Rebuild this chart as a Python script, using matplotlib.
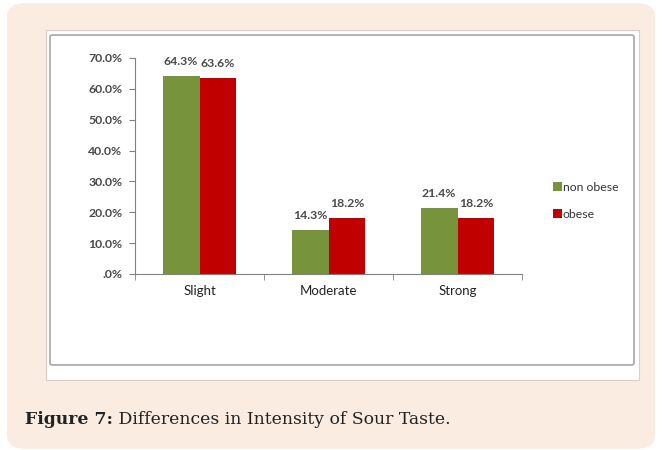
import matplotlib
matplotlib.use("Agg")
import matplotlib.pyplot as plt
from matplotlib.patches import FancyBboxPatch, Rectangle
import numpy as np

categories = ["Slight", "Moderate", "Strong"]
non_obese = [64.3, 14.3, 21.4]
obese = [63.6, 18.2, 18.2]
series_names = ["non obese", "obese"]
ytick_values = [0, 10, 20, 30, 40, 50, 60, 70]
ytick_labels = [".0%", "10.0%", "20.0%", "30.0%", "40.0%", "50.0%", "60.0%", "70.0%"]
caption_bold = "Figure 7:"
caption_rest = " Differences in Intensity of Sour Taste."

W, H = 662, 450
fig = plt.figure(figsize=(W / 100, H / 100), dpi=100)
fig.patch.set_facecolor("white")

def fx(x): return x / W
def fy(y): return 1 - y / H

# beige panel
panel = FancyBboxPatch((fx(7), fy(449)), fx(655) - fx(7), fy(3) - fy(449),
                       boxstyle="round,pad=0,rounding_size=0.03",
                       transform=fig.transFigure, facecolor="#FBECE1",
                       edgecolor="none", zorder=0)
fig.patches.append(panel)
# white image area
fig.patches.append(Rectangle((fx(46), fy(380)), fx(639) - fx(46), fy(30) - fy(380),
                             transform=fig.transFigure, facecolor="white",
                             edgecolor="#D9CFC8", lw=0.8, zorder=1))
# chart border
fig.patches.append(FancyBboxPatch((fx(50), fy(365)), fx(634) - fx(50), fy(35) - fy(365),
                                  boxstyle="round,pad=0,rounding_size=0.004",
                                  transform=fig.transFigure, facecolor="white",
                                  edgecolor="#A6A6A6", lw=1.2, zorder=2))

ax = fig.add_axes([fx(135), fy(274), fx(522) - fx(135), fy(58) - fy(274)])
ax.set_zorder(3)
ax.patch.set_alpha(0)

x = np.arange(len(categories))
bw = 0.285
green = "#77933C"
red = "#C00000"
b1 = ax.bar(x - bw / 2, non_obese, bw, color=green, label=series_names[0])
b2 = ax.bar(x + bw / 2, obese, bw, color=red, label=series_names[1])

lab_font = dict(family="Lato", fontsize=8.8, fontweight="bold", color="#4a4a4a")
for bars, vals in ((b1, non_obese), (b2, obese)):
    for b, v in zip(bars, vals):
        ax.annotate(f"{v:.1f}%", (b.get_x() + b.get_width() / 2, v),
                    xytext=(0, 6.5), textcoords="offset points",
                    ha="center", va="bottom", **lab_font)

ax.set_xlim(-0.5, len(categories) - 0.5)
ax.set_ylim(0, 70)
ax.set_yticks(ytick_values)
ax.set_yticklabels(ytick_labels, family="Lato", fontsize=8.8, fontweight="bold", color="#4a4a4a")
ax.set_xticks(x)
ax.set_xticklabels(categories, family="Lato", fontsize=9.5, color="#222222")
ax.set_xticks(np.arange(len(categories) + 1) - 0.5, minor=True)
ax.tick_params(axis="x", which="major", length=0, pad=8)
ax.tick_params(axis="x", which="minor", length=4, color="#808080", direction="out")
ax.tick_params(axis="y", length=4, color="#808080", direction="out", pad=5)
for s in ("top", "right"):
    ax.spines[s].set_visible(False)
for s in ("left", "bottom"):
    ax.spines[s].set_color("#808080")
    ax.spines[s].set_linewidth(0.8)

leg = ax.legend(loc="upper left", bbox_to_anchor=(fx(547 - 135) / (fx(522) - fx(135)), 0.455),
                frameon=False, handlelength=0.7, handleheight=0.7, handletextpad=0.1,
                labelspacing=1.3, borderpad=0, prop=dict(family="Lato", size=8.8))
for t in leg.get_texts():
    t.set_color("#333333")

cap_size = 14
t1 = fig.text(fx(25), fy(419), caption_bold, family="DejaVu Serif", fontweight="bold",
              fontsize=cap_size, color="#222222", va="center", ha="left")
t2 = fig.text(0, fy(419), caption_rest, family="DejaVu Serif",
              fontsize=cap_size, color="#222222", va="center", ha="left")
fig.canvas.draw()
bb1 = t1.get_window_extent()
t2.set_x(bb1.x1 / W)
fig.canvas.draw()
total = t2.get_window_extent().x1 - bb1.x0
scale = (452 - 25) / total
cap_size *= scale
t1.set_fontsize(cap_size)
t2.set_fontsize(cap_size)
fig.canvas.draw()
t2.set_x(t1.get_window_extent().x1 / W)

fig.savefig("out.png", dpi=100)
